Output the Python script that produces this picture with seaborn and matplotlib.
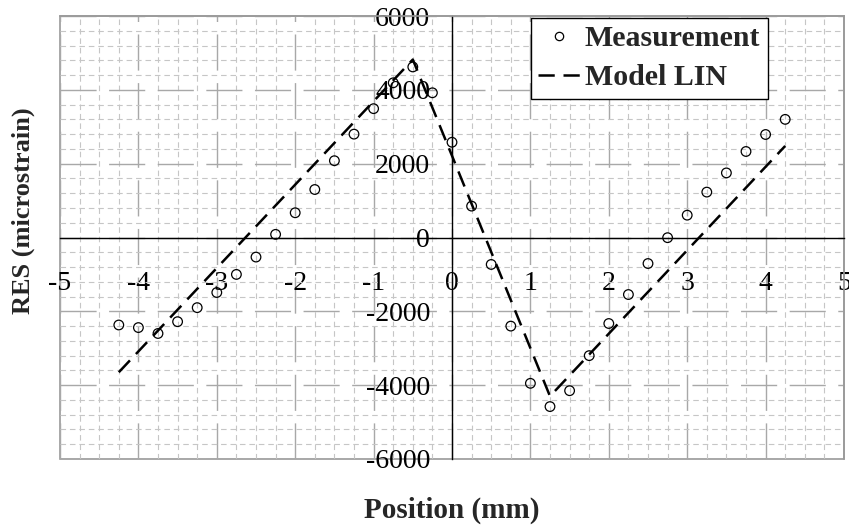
import matplotlib
matplotlib.use("Agg")
import matplotlib.pyplot as plt
from matplotlib.lines import Line2D
from matplotlib.patches import Rectangle
from matplotlib.ticker import MultipleLocator
import seaborn as sns

# Measured residual strain along the scan line
position_mm = [-4.25, -4.0, -3.75, -3.5, -3.25, -3.0, -2.75, -2.5, -2.25,
               -2.0, -1.75, -1.5, -1.25, -1.0, -0.75, -0.5, -0.25, 0.0,
               0.25, 0.5, 0.75, 1.0, 1.25, 1.5, 1.75, 2.0, 2.25, 2.5,
               2.75, 3.0, 3.25, 3.5, 3.75, 4.0, 4.25]
res_measured = [-2370, -2440, -2600, -2280, -1900, -1490, -1000, -530, 85,
                670, 1300, 2080, 2800, 3490, 4190, 4620, 3920, 2580,
                850, -730, -2400, -3950, -4580, -4150, -3200, -2330, -1545, -705,
                -5, 605, 1230, 1750, 2330, 2790, 3200]

# Linear model breakpoints
model_position = [-4.25, -0.5, 1.25, 4.25]
model_res = [-3650, 4820, -4300, 2480]

x_ticks = [-5, -4, -3, -2, -1, 0, 1, 2, 3, 4, 5]
x_tick_labels = ["-5", "-4", "-3", "-2", "-1", "0", "1", "2", "3", "4", "5"]
y_ticks = [-6000, -4000, -2000, 0, 2000, 4000, 6000]
y_tick_labels = ["-6000", "-4000", "-2000", "0", "2000", "4000", "6000"]

sns.set_style("white")
plt.rcParams["font.family"] = ["Liberation Serif", "DejaVu Serif"]
plt.rcParams["axes.unicode_minus"] = False

W, H = 849, 526
fig = plt.figure(figsize=(W / 100, H / 100), dpi=100)
ax = fig.add_axes([60 / W, 67 / H, 784 / W, 443 / H])
ax.set_xlim(-5, 5)
ax.set_ylim(-6000, 6000)

ax.set_xticks(x_ticks, labels=x_tick_labels)
ax.set_yticks(y_ticks, labels=y_tick_labels)
ax.xaxis.set_minor_locator(MultipleLocator(0.25))
ax.yaxis.set_minor_locator(MultipleLocator(400))

ax.grid(which="minor", color="#c6c6c6", lw=0.8, ls=(0, (5, 3.5)))
ax.grid(which="major", color="#a8a8a8", lw=1.0, ls=(0, (26, 9)))
ax.set_axisbelow(True)

# Axes cross through the origin; the plot area keeps a grey frame
ax.spines["left"].set_position(("data", 0))
ax.spines["bottom"].set_position(("data", 0))
for side in ("left", "bottom"):
    ax.spines[side].set_color("black")
    ax.spines[side].set_linewidth(1.0)
    ax.spines[side].set_zorder(2.5)
for side in ("top", "right"):
    ax.spines[side].set_color("#9a9a9a")
    ax.spines[side].set_linewidth(1.2)
ax.add_patch(Rectangle((0, 0), 1, 1, transform=ax.transAxes, fill=False,
                       edgecolor="#9a9a9a", lw=1.2, clip_on=False, zorder=0.5))

ax.tick_params(which="minor", length=0)
ax.tick_params(axis="y", which="major", direction="out", length=5.8,
               width=1, pad=10, labelsize=20, colors="black")
ax.tick_params(axis="x", which="major", direction="out", length=7.2,
               width=1, pad=17, labelsize=20, colors="black")

sns.lineplot(x=model_position, y=model_res, ax=ax, color="black", lw=1.8,
             linestyle=(0, (6.5, 3.5)), sort=False, estimator=None, zorder=3)
sns.scatterplot(x=position_mm, y=res_measured, ax=ax, marker="o", s=48,
                facecolor="none", edgecolor="black", linewidth=0.9, zorder=4)

handles = [
    Line2D([], [], ls="none", marker="o", mfc="none", mec="black", ms=6, mew=0.9),
    Line2D([], [], color="black", lw=1.8, ls=(0, (6.5, 3.5))),
]
leg = ax.legend(handles, ["Measurement", "Model LIN"], loc="upper left",
                bbox_to_anchor=(531 / W, 1 - 18 / H), bbox_transform=fig.transFigure,
                frameon=True, fancybox=False, edgecolor="black", framealpha=1,
                prop={"weight": "bold", "size": 21.5}, handlelength=1.4,
                handletextpad=0.15, borderpad=0.25, labelspacing=0.4,
                borderaxespad=0)
leg.get_frame().set_linewidth(1.0)
leg.set_zorder(5)

fig.text(452 / W, 1 - 510 / H, "Position (mm)", ha="center", va="center",
         fontsize=21, fontweight="bold")
fig.text(23 / W, 1 - 211 / H, "RES (microstrain)", rotation=90, ha="center",
         va="center", fontsize=19, fontweight="bold")

fig.savefig("out.png", dpi=100)
